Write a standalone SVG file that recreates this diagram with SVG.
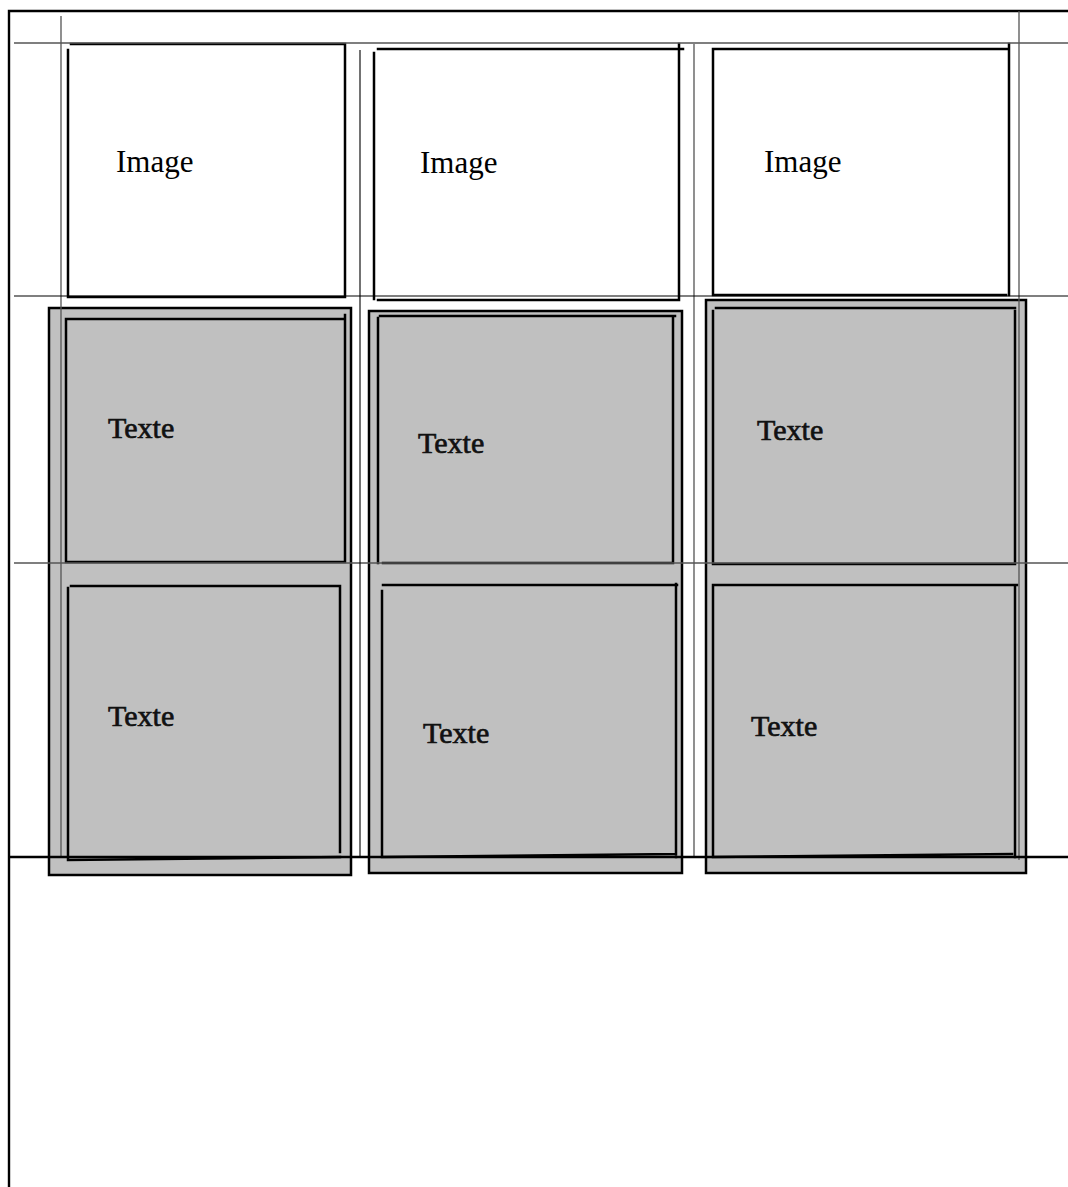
<svg xmlns="http://www.w3.org/2000/svg" width="1068" height="1187" viewBox="0 0 1068 1187">
<style>
.bx{fill:none;stroke:#000;stroke-width:2.5;stroke-linecap:square}
.outer{fill:#c0c0c0;stroke:#000;stroke-width:2.5}
.g{stroke:#555;stroke-width:1.3;fill:none}
.gb{stroke:#000;stroke-width:1.1;fill:none}
.frame{stroke:#000;stroke-width:2.4;fill:none}
.img{font-family:"Liberation Serif",serif;font-size:31px;fill:#000}
.txt{font-family:"Liberation Serif",serif;font-size:30px;fill:#111;stroke:#111;stroke-width:0.7}
</style>
<rect x="0" y="0" width="1068" height="1187" fill="#fff"/>
<g id="frame">
<path class="frame" d="M9 1187V11H1068"/>
</g>
<g id="col1">
<g id="image1"><path class="bx" d="M71 44H345V297H70M68 50V297"/><text class="img" x="116" y="172">Image</text></g>
<rect class="outer" x="49" y="308" width="302" height="567"/>
<g id="texte1a"><path class="bx" d="M66 319H345V562H66ZM345 315V562"/><text class="txt" x="108" y="438">Texte</text></g>
<g id="texte1b"><path class="bx" d="M71 586H340V852M68 588V860L340 857"/><text class="txt" x="108" y="726">Texte</text></g>
</g>
<g id="col2">
<g id="image2"><path class="bx" d="M378 49H683M374 53V299M679 44V299M378 300H679"/><text class="img" x="420" y="173">Image</text></g>
<rect class="outer" x="369" y="311" width="313" height="562"/>
<g id="texte2a"><path class="bx" d="M380 316H675M378 318V563M673 316V563M383 563H673"/><text class="txt" x="418" y="453">Texte</text></g>
<g id="texte2b"><path class="bx" d="M383 585H677M382 591V857M676 584V857M383 857L676 854"/><text class="txt" x="423" y="743">Texte</text></g>
</g>
<g id="col3">
<g id="image3"><path class="bx" d="M713 49H1009M713 49V295M1009 44V295M713 295H1006"/><text class="img" x="764" y="172">Image</text></g>
<rect class="outer" x="706" y="300" width="320" height="573"/>
<g id="texte3a"><path class="bx" d="M716 308H1015M713 311V563M1015 311V563M713 564H1015"/><text class="txt" x="757" y="440">Texte</text></g>
<g id="texte3b"><path class="bx" d="M713 585H1017M713 585V857M1015 585V857M713 857L1012 854"/><text class="txt" x="751" y="736">Texte</text></g>
</g>
<g id="connectors">
<path class="g" d="M14 43H1068M14 563H1068M61 16V857M694 44V857M1019 11V860"/>
<path class="gb" d="M14 296H1068M360 50V858"/>
<path class="frame" d="M9 857H1068"/>
</g>
</svg>
